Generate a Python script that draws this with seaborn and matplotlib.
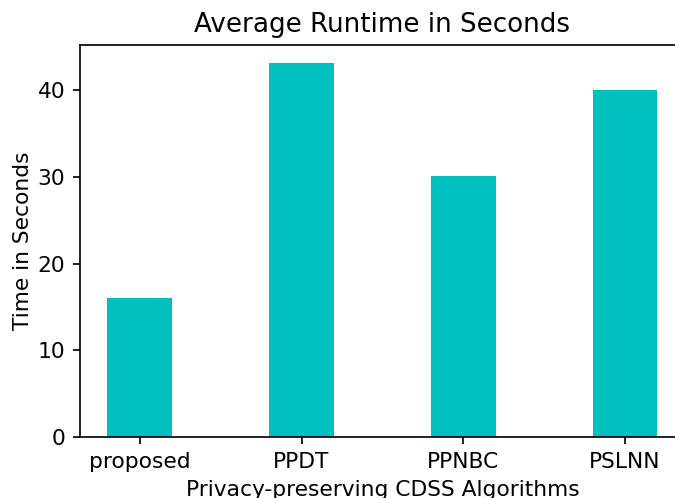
import matplotlib
matplotlib.use('Agg')
import matplotlib.pyplot as plt
import seaborn as sns
import pandas as pd

# ── Data ───────────────────────────────────────────────────────────
algorithms = ['proposed', 'PPDT', 'PPNBC', 'PSLNN']
runtimes = [16.0, 43.1, 30.1, 40.0]

df = pd.DataFrame({'algorithm': algorithms, 'runtime': runtimes})

# ── Plot ───────────────────────────────────────────────────────────
fig = plt.figure(figsize=(675 / 152, 498 / 152), dpi=152)
ax = fig.add_axes([0.1185, 0.1225, 0.896, 0.787])

sns.barplot(data=df, x='algorithm', y='runtime', color='c',
            saturation=1, width=0.4, ax=ax)

ax.set_xlim(-0.37, 3.37)
ax.set_ylim(0, 45.2)
ax.set_yticks([0, 10, 20, 30, 40])
ax.set_title('Average Runtime in Seconds', fontsize=12.4)
ax.set_xlabel('Privacy-preserving CDSS Algorithms', fontsize=10.3)
ax.set_ylabel('Time in Seconds', fontsize=10.3, labelpad=2.2)
ax.tick_params(labelsize=10.3)

fig.savefig('out.png', dpi=152)
plt.close()
